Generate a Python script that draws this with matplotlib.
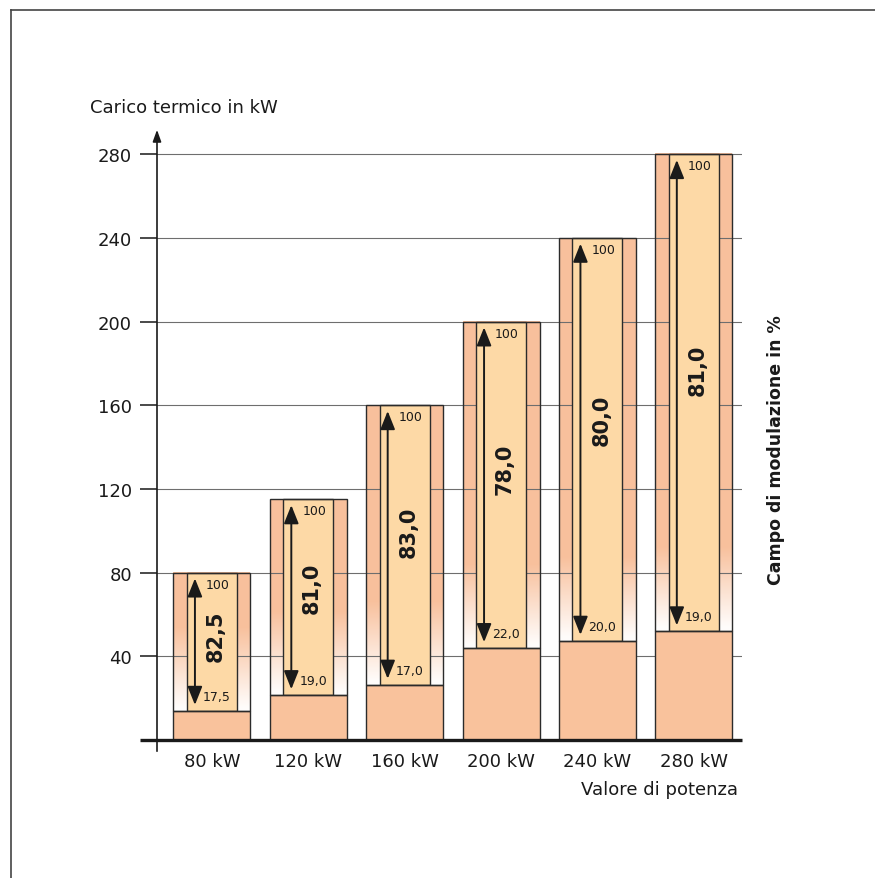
import matplotlib
matplotlib.use('Agg')
import matplotlib.pyplot as plt
import numpy as np
from matplotlib.patches import Rectangle, FancyArrowPatch
from matplotlib.lines import Line2D

# dati
potenze = ['80 kW', '120 kW', '160 kW', '200 kW', '240 kW', '280 kW']
carico_max = [80, 115, 160, 200, 240, 280]
carico_min = [14, 21.5, 26.5, 44, 47.5, 52]
perc_min = [17.5, 19.0, 17.0, 22.0, 20.0, 19.0]
campo_mod = [82.5, 81.0, 83.0, 78.0, 80.0, 81.0]
y_ticks = [40, 80, 120, 160, 200, 240, 280]

salmone = np.array([0.973, 0.753, 0.612])
chiaro = '#fdd9a6'
scuro = '#2b2b2b'

W, H = 875, 879
fig = plt.figure(figsize=(W / 100, H / 100), dpi=100)
plt.rcParams['font.family'] = ['DejaVu Sans']

# cornice
fig.add_artist(Line2D([11 / W, 11 / W], [0, 1 - 11 / H], color='#444444', lw=1.2))
fig.add_artist(Line2D([11 / W, 1], [1 - 11 / H, 1 - 11 / H], color='#444444', lw=1.2))

ax = fig.add_axes([157 / W, (H - 741) / H, (742 - 157) / W, (741 - 128) / H])
xmin, xmax = -0.57, 5.50
ymin, ymax = 0, 293
px_x = (742 - 157) / (xmax - xmin)   # pixel per unita x
px_y = (741 - 128) / (ymax - ymin)   # pixel per kW

half_out = 38.5 / px_x
half_in = 25 / px_x
fade = 40  # kW di sfumatura sopra il blocco di base

for i, (top, low, pm, cm) in enumerate(zip(carico_max, carico_min, perc_min, campo_mod)):
    # strisce laterali con sfumatura verso il bianco
    h = np.linspace(low, top, 200)
    s = np.clip((h - low) / fade, 0.04, 1.0)[:, None]
    img = (1 - s) * np.array([1, 1, 1]) + s * salmone
    img = np.repeat(img[:, None, :], 2, axis=1)
    ax.imshow(img, extent=(i - half_out, i + half_out, low, top), origin='lower',
              aspect='auto', zorder=1, interpolation='bilinear')
    ax.add_patch(Rectangle((i - half_out, low), 2 * half_out, top - low, fill=False,
                           ec=scuro, lw=1.0, zorder=4))
    # campo di modulazione
    ax.add_patch(Rectangle((i - half_in, low), 2 * half_in, top - low, fc=chiaro,
                           ec=scuro, lw=1.0, zorder=3))
    # carico minimo
    ax.add_patch(Rectangle((i - half_out, 0), 2 * half_out, low, fc='#f9c29c',
                           ec=scuro, lw=1.0, zorder=3))
    xa = i - 17 / px_x
    ax.add_patch(FancyArrowPatch((xa, low + 3 / px_y), (xa, top - 3 / px_y),
                                 arrowstyle='<|-|>,head_length=0.8,head_width=0.32',
                                 mutation_scale=14, color='#1a1a1a', lw=1.4, zorder=5))
    ax.text(xa + 11 / px_x, top - 5 / px_y, '100', ha='left', va='top',
            fontsize=9, color='#1a1a1a', zorder=6)
    ax.text(xa + 8 / px_x, low + 8 / px_y, f'{pm:.1f}'.replace('.', ','), ha='left',
            va='bottom', fontsize=9, color='#1a1a1a', zorder=6)
    ax.text(i + 0.04, low + 0.55 * (top - low), f'{cm:.1f}'.replace('.', ','),
            rotation=90, ha='center', va='center', fontsize=15, fontweight='bold',
            color='#1a1a1a', zorder=6)

ax.set_xlim(xmin, xmax)
ax.set_ylim(ymin, ymax)
for sp in ax.spines.values():
    sp.set_visible(False)

ax.set_yticks(y_ticks)
ax.tick_params(axis='y', length=12, width=1.2, color=scuro, pad=6, labelsize=13,
               labelcolor='#1a1a1a')
ax.yaxis.grid(True, color='#6e6e6e', lw=0.8, zorder=2)
ax.set_axisbelow(False)
for gl in ax.get_ygridlines():
    gl.set_zorder(2)
ax.set_xticks(range(len(potenze)))
ax.set_xticklabels(potenze)
ax.tick_params(axis='x', length=0, pad=9, labelsize=13, labelcolor='#1a1a1a')

# assi
ax.plot([-17 / 585, 1], [0, 0], transform=ax.transAxes, color='#1a1a1a', lw=2.4,
        clip_on=False, zorder=7, solid_capstyle='butt')
ax.annotate('', xy=(0, 1), xytext=(0, -14 / 613), xycoords='axes fraction',
            arrowprops=dict(arrowstyle='-|>,head_length=0.5,head_width=0.18',
                            mutation_scale=14, color='#1a1a1a', lw=1.2),
            zorder=7)

fig.text(90 / W, 1 - 108 / H, 'Carico termico in kW', ha='left', va='center',
         fontsize=13, color='#1a1a1a')
fig.text(738 / W, 1 - 790 / H, 'Valore di potenza', ha='right', va='center',
         fontsize=13, color='#1a1a1a')
fig.text(776 / W, 1 - 450 / H, 'Campo di modulazione in %', rotation=90,
         ha='center', va='center', fontsize=12.5, fontweight='bold', color='#1a1a1a')

fig.savefig('out.png', dpi=100)
